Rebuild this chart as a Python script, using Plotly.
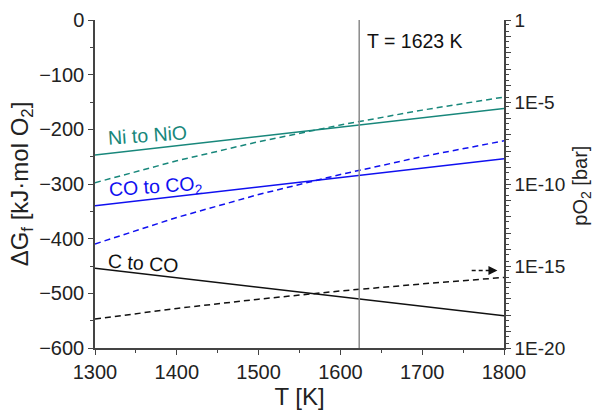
import plotly.graph_objects as go

# Temperatures [K]
T_line = [1300, 1800]
T_curve = [1300, 1400, 1500, 1600, 1700, 1800]

# Gibbs energy of formation [kJ/mol O2] (solid lines, left axis)
dG_Ni = [-247, -162]
dG_CO = [-340, -254]
dG_C = [-454, -541]

# Equilibrium oxygen partial pressure [bar] (dashed lines, right axis)
pO2_Ni = [1.2e-10, 2.6e-9, 3.8e-8, 4.0e-7, 3.2e-6, 2.0e-5]
pO2_CO = [2.2e-14, 9.1e-13, 2.3e-11, 3.8e-10, 4.7e-9, 4.3e-8]
pO2_C = [5.8e-19, 2.6e-18, 9.5e-18, 3.0e-17, 8.1e-17, 2.0e-16]

T_mark = 1623
teal = "#18877b"
blue = "#1010f0"
black = "#111111"
axc = "#444444"
FONT = "Liberation Sans, Arial, sans-serif"

fig = go.Figure()
for y, c in [(dG_Ni, teal), (dG_CO, blue), (dG_C, black)]:
    fig.add_trace(go.Scatter(x=T_line, y=y, mode="lines", line=dict(color=c, width=1.5),
                             yaxis="y", showlegend=False))
for y, c in [(pO2_Ni, teal), (pO2_CO, blue), (pO2_C, black)]:
    fig.add_trace(go.Scatter(x=T_curve, y=y, mode="lines",
                             line=dict(color=c, width=1.5, dash="6px,4px"),
                             yaxis="y2", showlegend=False))

fig.add_shape(type="line", x0=T_mark, x1=T_mark, y0=0, y1=1, xref="x", yref="paper",
              line=dict(color="#8a8a8a", width=1.5))

# dashed arrow pointing to right axis
fig.add_shape(type="line", x0=0.921, x1=0.968, y0=0.236, y1=0.236, xref="paper", yref="paper",
              line=dict(color=black, width=1.5, dash="4px,3px"))
fig.add_annotation(x=0.984, y=0.236, xref="paper", yref="paper", ax=-10, ay=0,
                   axref="pixel", ayref="pixel", text="", showarrow=True,
                   arrowhead=2, arrowsize=1.2, arrowwidth=1.5, arrowcolor=black)

labels = [
    ("Ni to NiO", teal, 0.128, 0.648, -4),
    ("CO to CO<sub>2</sub>", blue, 0.148, 0.490, -4),
    ("C to CO", black, 0.117, 0.258, 4),
]
for txt, c, xp, yp, ang in labels:
    fig.add_annotation(x=xp, y=yp, xref="paper", yref="paper", text=txt, showarrow=False,
                       xanchor="center", yanchor="middle",
                       font=dict(color=c, size=19.5, family=FONT), textangle=ang)

fig.add_annotation(x=0.660, y=0.937, xref="paper", yref="paper", text="T = 1623 K",
                   showarrow=False, xanchor="left", yanchor="middle",
                   font=dict(color=black, size=19.5, family=FONT))

# right axis title
fig.add_annotation(x=1.190, y=0.494, xref="paper", yref="paper", text="pO<sub>2</sub> [bar]",
                   showarrow=False, xanchor="center", yanchor="middle", textangle=-90,
                   font=dict(color="#222222", size=20, family=FONT))

exps = list(range(0, -21, -1))
tickvals = [10.0 ** e for e in exps]
ticktext = [("1" if e == 0 else f"1E{e}") if e % 5 == 0 else "" for e in exps]

fig.update_layout(
    width=595, height=414,
    margin=dict(l=95, r=91, t=20, b=66),
    paper_bgcolor="white", plot_bgcolor="white",
    font=dict(family=FONT, size=20, color="#222222"),
    xaxis=dict(range=[1300, 1800], dtick=100, ticks="outside", ticklen=5, tickwidth=1.3,
               tickcolor=axc, showline=True, linecolor=axc, linewidth=1.5, showgrid=False,
               zeroline=False, automargin=False, title=dict(text="T [K]", standoff=6),
               minor=dict(dtick=50, ticks="outside", ticklen=3, tickcolor=axc)),
    xaxis2=dict(range=[1300, 1800], overlaying="x", side="top", dtick=50, ticks="inside",
                ticklen=4, tickcolor=axc, showticklabels=False, showline=True, linecolor=axc,
                linewidth=1.5, showgrid=False, zeroline=False, automargin=False),
    yaxis=dict(range=[-600, 0], dtick=100, ticks="outside", ticklen=5, tickwidth=1.3,
               tickcolor=axc, showline=True, linecolor=axc, linewidth=1.5, showgrid=False,
               zeroline=False, automargin=False,
               title=dict(text="ΔG<sub>f</sub> [kJ·mol O<sub>2</sub>]", standoff=4),
               minor=dict(dtick=50, ticks="outside", ticklen=3, tickcolor=axc)),
    yaxis2=dict(type="log", range=[-20, 0], overlaying="y", side="right",
                tickmode="array", tickvals=tickvals, ticktext=ticktext,
                tickfont=dict(size=19),
                ticks="outside", ticklen=5, tickwidth=1.3, tickcolor=axc,
                showline=True, linecolor=axc, linewidth=1.5, showgrid=False, zeroline=False,
                automargin=False,
                minor=dict(dtick="D2", ticks="outside", ticklen=3, tickcolor=axc)),
)

fig.write_html("out.html")
